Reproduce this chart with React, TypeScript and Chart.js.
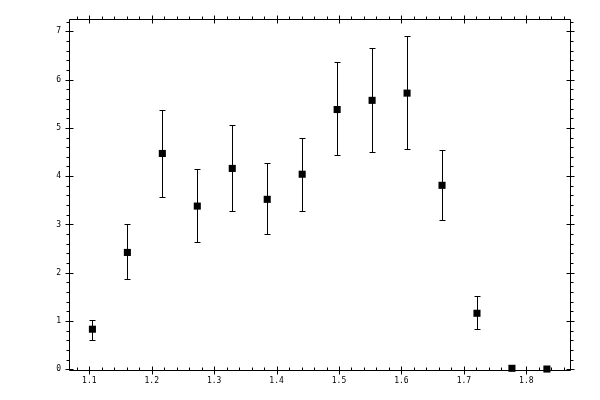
import { useEffect, useRef } from "react";
import { Chart, registerables } from "chart.js";
import type { Plugin } from "chart.js";

Chart.register(...registerables);

const xValues = [1.105, 1.161, 1.217, 1.273, 1.329, 1.385, 1.441, 1.497, 1.553, 1.609, 1.665, 1.721, 1.777, 1.833];
const yValues = [0.83, 2.42, 4.47, 3.38, 4.16, 3.52, 4.04, 5.38, 5.57, 5.72, 3.81, 1.16, 0.02, 0.005];
const errHigh = [1.03, 3.0, 5.38, 4.14, 5.06, 4.27, 4.78, 6.36, 6.65, 6.9, 4.54, 1.51, null, null];
const errLow = [0.6, 1.86, 3.56, 2.63, 3.27, 2.8, 3.27, 4.43, 4.49, 4.56, 3.09, 0.83, null, null];

const xTicks = [1.1, 1.2, 1.3, 1.4, 1.5, 1.6, 1.7, 1.8];
const yTicks = [0, 1, 2, 3, 4, 5, 6, 7];

const X_MIN = 1.0675;
const X_MAX = 1.87;
const Y_MIN = -0.015;
const Y_MAX = 7.255;

const px = (v: number) => Math.round(v) + 0.5;

// error bars underneath the squares
const errorBars: Plugin<"scatter"> = {
	id: "errorBars",
	beforeDatasetsDraw(chart) {
		const { ctx, scales } = chart;
		ctx.save();
		ctx.strokeStyle = "#000";
		ctx.lineWidth = 1;
		ctx.beginPath();
		xValues.forEach((x, i) => {
			const hi = errHigh[i];
			const lo = errLow[i];
			if (hi == null || lo == null) return;
			const cx = px(scales.x.getPixelForValue(x));
			const yh = px(scales.y.getPixelForValue(hi));
			const yl = px(scales.y.getPixelForValue(lo));
			ctx.moveTo(cx, yh);
			ctx.lineTo(cx, yl);
			ctx.moveTo(cx - 3, yh);
			ctx.lineTo(cx + 3, yh);
			ctx.moveTo(cx - 3, yl);
			ctx.lineTo(cx + 3, yl);
		});
		ctx.stroke();
		ctx.restore();
	},
};

// frame with ticks on all four sides
const frame: Plugin<"scatter"> = {
	id: "frame",
	afterDraw(chart) {
		const { ctx, chartArea, scales } = chart;
		const l = px(chartArea.left);
		const r = px(chartArea.right);
		const t = px(chartArea.top);
		const b = px(chartArea.bottom);
		ctx.save();
		ctx.strokeStyle = "#000";
		ctx.lineWidth = 1;
		ctx.beginPath();
		ctx.rect(l, t, r - l, b - t);

		for (let k = 54; k <= 93; k++) {
			const v = k / 50;
			const x = px(scales.x.getPixelForValue(v));
			if (x <= l || x >= r) continue;
			const major = k % 5 === 0;
			if (major) {
				ctx.moveTo(x, b - 4);
				ctx.lineTo(x, b + 4);
				ctx.moveTo(x, t - 4);
				ctx.lineTo(x, t + 4);
			} else {
				ctx.moveTo(x, b);
				ctx.lineTo(x, b - 3);
				ctx.moveTo(x, t);
				ctx.lineTo(x, t - 3);
			}
		}
		for (let k = 0; k <= 36; k++) {
			const v = k / 5;
			const y = px(scales.y.getPixelForValue(v));
			if (y < t || y > b) continue;
			const major = k % 5 === 0;
			if (major) {
				ctx.moveTo(l - 4, y);
				ctx.lineTo(l + 4, y);
				ctx.moveTo(r - 4, y);
				ctx.lineTo(r + 4, y);
			} else {
				ctx.moveTo(l, y);
				ctx.lineTo(l - 3, y);
				ctx.moveTo(r, y);
				ctx.lineTo(r + 3, y);
			}
		}
		ctx.stroke();
		ctx.restore();
	},
};

export default function App() {
	const canvasRef = useRef<HTMLCanvasElement | null>(null);

	useEffect(() => {
		if (!canvasRef.current) {
			return;
		}

		const chart = new Chart(canvasRef.current, {
			type: "scatter",
			data: {
				datasets: [
					{
						data: xValues.map((x, i) => ({ x, y: yValues[i] })),
						pointStyle: "rect",
						pointRadius: 5,
						pointHoverRadius: 5,
						pointBackgroundColor: "#000",
						pointBorderWidth: 0,
						clip: false,
					},
				],
			},
			options: {
				responsive: true,
				maintainAspectRatio: false,
				animation: false,
				events: [],
				layout: { padding: { top: 19, right: 30, left: 0, bottom: 0 } },
				plugins: {
					legend: { display: false },
					tooltip: { enabled: false },
				},
				scales: {
					x: {
						type: "linear",
						min: X_MIN,
						max: X_MAX,
						grid: { display: false, drawTicks: false },
						border: { display: false },
						afterBuildTicks: (scale) => {
							scale.ticks = xTicks.map((value) => ({ value }));
						},
						afterFit: (scale) => {
							scale.height = 30;
						},
						ticks: {
							color: "#000",
							padding: 6,
							maxRotation: 0,
							autoSkip: false,
							font: { family: "DejaVu Sans Mono", size: 8 },
							callback: (v) => Number(v).toFixed(1),
						},
					},
					y: {
						type: "linear",
						min: Y_MIN,
						max: Y_MAX,
						grid: { display: false, drawTicks: false },
						border: { display: false },
						afterBuildTicks: (scale) => {
							scale.ticks = yTicks.map((value) => ({ value }));
						},
						afterFit: (scale) => {
							scale.width = 69;
						},
						ticks: {
							color: "#000",
							padding: 8,
							autoSkip: false,
							font: { family: "DejaVu Sans Mono", size: 8 },
							callback: (v) => String(v),
						},
					},
				},
			},
			plugins: [errorBars, frame],
		});

		return () => {
			chart.destroy();
		};
	}, []);

	return (
		<div style={{ position: "absolute", left: 0, top: 0, width: 600, height: 400, background: "#fff" }}>
			<canvas ref={canvasRef} />
		</div>
	);
}
